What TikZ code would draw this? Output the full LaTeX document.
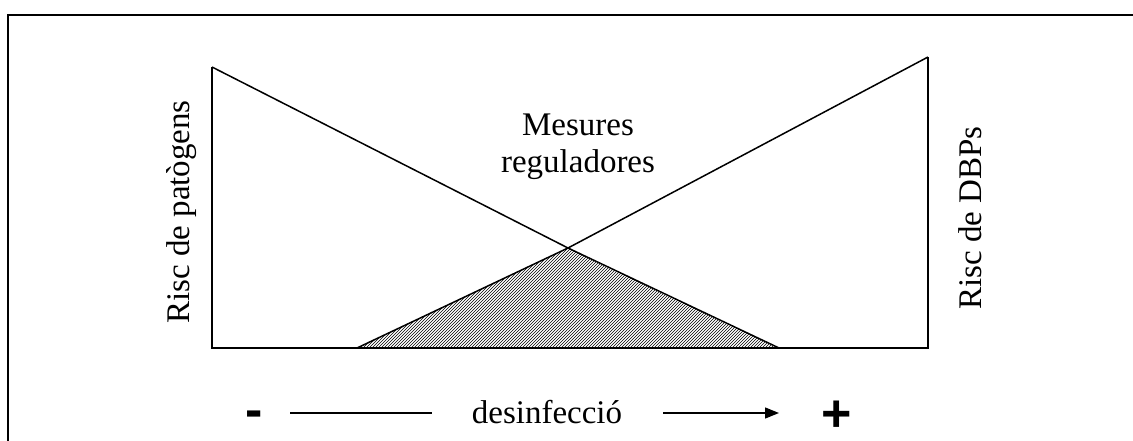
\documentclass[tikz,border=0pt]{standalone}
\usepackage{fontspec}
\setmainfont{Liberation Serif}
\newfontfamily\boldsans{Liberation Sans}
\usetikzlibrary{arrows.meta,patterns}
\begin{document}
\begin{tikzpicture}[x=1pt,y=-1pt,
  txt/.style={font=\fontsize{33}{38}\selectfont, inner sep=0pt},
  sign/.style={font=\boldsans\bfseries\fontsize{52}{56}\selectfont, inner sep=0pt, anchor=base},
  fig/.style={line width=1.5pt, line join=miter},
  frame/.style={line width=1.6pt},
  axis/.style={line width=1.4pt}]
\useasboundingbox (0,0) rectangle (1133,441);
\draw[frame] (1133,15) -- (8,15) -- (8,441);
% triangle corners
\coordinate (tl) at (212,67);
\coordinate (bl) at (212,348);
\coordinate (tr) at (928,57);
\coordinate (br) at (928,348);
\coordinate (apex) at (568,248);
\coordinate (b1) at (357,348);
\coordinate (b2) at (779,348);
\fill[pattern=north east lines] (b1) -- (apex) -- (b2) -- cycle;
\draw[fig] (tl) -- (bl) -- (br) -- (tr);
\draw[fig] (tl) -- (apex) -- (b2);
\draw[fig] (b1) -- (apex) -- (tr);
% labels
\node[txt, rotate=90, anchor=base] (rp) at (189,212) {Risc de patògens};
\node[txt, rotate=90, anchor=base] (rd) at (981,218) {Risc de DBPs};
\node[txt, anchor=base] (mes1) at (578,136) {Mesures};
\node[txt, anchor=base] (mes2) at (578,173) {reguladores};
% axis
\node[txt, anchor=base] (des) at (547,423) {desinfecció};
\node[sign] (minus) at (254,427) {-};
\node[sign] (plus) at (837,431) {+};
\coordinate (l1) at (290,413);
\coordinate (l2) at (432,413);
\coordinate (a1) at (663,413);
\coordinate (a2) at (779,413);
\draw[axis] (l1) -- (l2);
\draw[axis, -{Triangle[length=14pt,width=11pt]}] (a1) -- (a2);
\end{tikzpicture}
\end{document}
